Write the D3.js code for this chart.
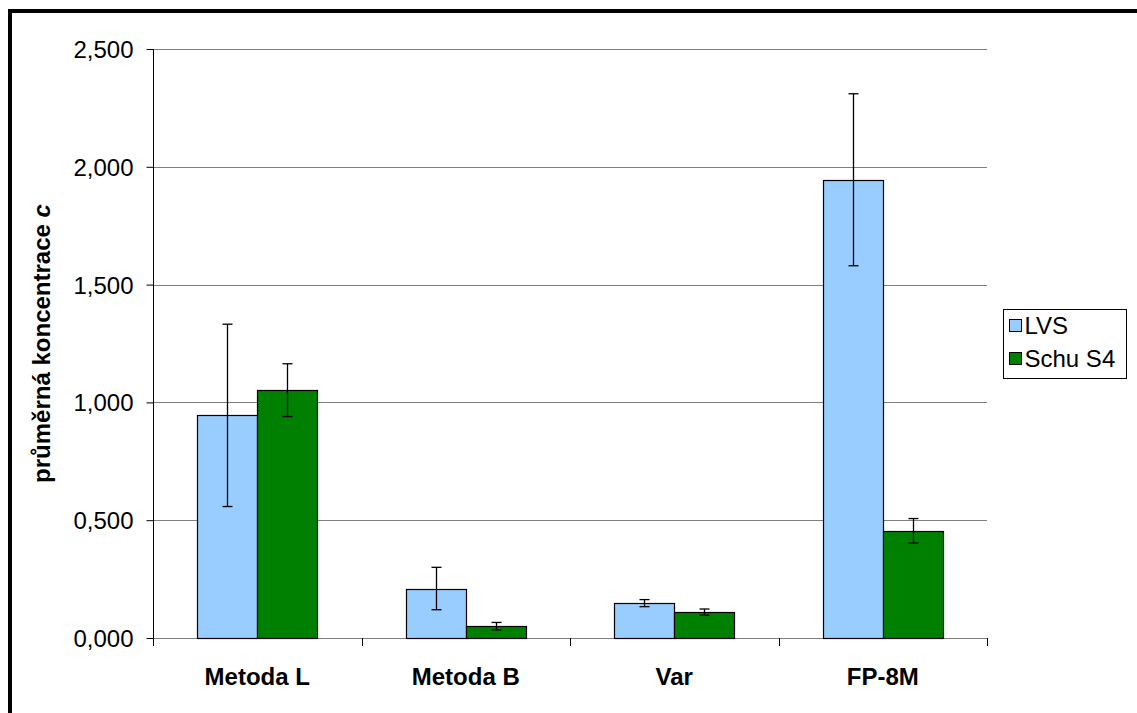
<!DOCTYPE html>
<html>
<head>
<meta charset="utf-8">
<script src="https://cdn.jsdelivr.net/npm/d3@7"></script>
<style>
  body { margin: 0; background: #fff; }
  svg text { font-family: Arial, "Liberation Sans", sans-serif; }
</style>
</head>
<body>
<svg id="chart" width="1137" height="713"></svg>
<script>
// data
const categories = ["Metoda L", "Metoda B", "Var", "FP-8M"];
const seriesNames = ["LVS", "Schu S4"];
const seriesColors = ["#99ccff", "#008000"];
const lvsValues = [0.945, 0.210, 0.148, 1.945];
const lvsErrors = [0.387, 0.090, 0.015, 0.365];
const schuValues = [1.052, 0.050, 0.110, 0.455];
const schuErrors = [0.112, 0.016, 0.013, 0.052];
const yTicks = [0, 0.5, 1, 1.5, 2, 2.5];

const svg = d3.select("#chart");

// outer frame (runs off right/bottom edge)
svg.append("rect")
    .attr("x", 10).attr("y", 11)
    .attr("width", 1300).attr("height", 900)
    .attr("fill", "none")
    .attr("stroke", "black")
    .attr("stroke-width", 4);

const plot = {left: 153, top: 49, right: 987, bottom: 638};

const x = d3.scaleBand()
    .domain(categories)
    .range([plot.left, plot.right]);

const y = d3.scaleLinear().domain([0, 2.5]).range([plot.bottom, plot.top]);

// gridlines
svg.append("g")
  .selectAll("line")
  .data(yTicks.filter(d => d > 0))
  .join("line")
    .attr("x1", plot.left).attr("x2", plot.right)
    .attr("y1", d => Math.round(y(d)) + 0.5).attr("y2", d => Math.round(y(d)) + 0.5)
    .attr("stroke", "#808080")
    .attr("stroke-width", 1);

// y axis
const yAxis = svg.append("g")
    .attr("transform", `translate(${plot.left + 0.5},0)`)
    .call(d3.axisLeft(y).tickValues(yTicks).tickSize(7).tickPadding(13)
      .tickFormat(d => d3.format(".3f")(d).replace(".", ",")));
yAxis.select(".domain").attr("stroke", "#000").attr("d", `M0,${plot.top}V${plot.bottom}`);
yAxis.selectAll(".tick line").attr("stroke", "#000");
yAxis.selectAll(".tick text")
    .attr("font-size", 24)
    .attr("fill", "#000")
    .attr("font-family", "Arial, 'Liberation Sans', sans-serif")
    .attr("dy", "0.35em");

// x axis line and ticks
const bandEdges = d3.range(categories.length + 1).map(i => plot.left + i * x.bandwidth());
svg.append("line")
    .attr("x1", plot.left).attr("x2", plot.right)
    .attr("y1", plot.bottom + 0.5).attr("y2", plot.bottom + 0.5)
    .attr("stroke", "#808080");
svg.append("g")
  .selectAll("line")
  .data(bandEdges)
  .join("line")
    .attr("x1", d => Math.round(d) + 0.5).attr("x2", d => Math.round(d) + 0.5)
    .attr("y1", plot.bottom).attr("y2", plot.bottom + 8)
    .attr("stroke", "#000");

// x labels
svg.append("g")
  .selectAll("text")
  .data(categories)
  .join("text")
    .attr("x", d => x(d) + x.bandwidth() / 2)
    .attr("y", 685)
    .attr("text-anchor", "middle")
    .attr("font-size", 24)
    .attr("font-weight", "bold")
    .text(d => d);

// bars
const barW = 60;
const rows = categories.map((c, i) => [
  {cat: c, s: 0, v: lvsValues[i], e: lvsErrors[i]},
  {cat: c, s: 1, v: schuValues[i], e: schuErrors[i]}
]).flat();

const barX = d => x(d.cat) + x.bandwidth() / 2 - barW + d.s * barW;

svg.append("g")
  .selectAll("rect")
  .data(rows)
  .join("rect")
    .attr("x", d => Math.round(barX(d)) + 0.5)
    .attr("y", d => Math.round(y(d.v)) + 0.5)
    .attr("width", barW)
    .attr("height", d => Math.round(y(0)) - Math.round(y(d.v)))
    .attr("fill", d => seriesColors[d.s])
    .attr("stroke", "#000")
    .attr("stroke-width", 1.2);

// error bars
const err = svg.append("g").attr("stroke", "#000").attr("stroke-width", 1.3);
rows.forEach(d => {
  const cx = Math.round(barX(d) + barW / 2) + 0.5;
  err.append("line").attr("x1", cx).attr("x2", cx).attr("y1", y(d.v + d.e)).attr("y2", y(d.v - d.e));
  err.append("line").attr("x1", cx - 5).attr("x2", cx + 5).attr("y1", y(d.v + d.e)).attr("y2", y(d.v + d.e));
  err.append("line").attr("x1", cx - 5).attr("x2", cx + 5).attr("y1", y(d.v - d.e)).attr("y2", y(d.v - d.e));
});

// y title
const title = svg.append("text")
    .attr("transform", `translate(50,${(plot.top + plot.bottom) / 2}) rotate(-90)`)
    .attr("text-anchor", "middle")
    .attr("font-size", 24)
    .attr("font-weight", "bold");
title.append("tspan").text("průměrná koncentrace ");
title.append("tspan").attr("font-style", "italic").text("c");

// legend
const legend = svg.append("g").attr("transform", "translate(1003.5,309.5)");
legend.append("rect")
    .attr("width", 123).attr("height", 69)
    .attr("fill", "#fff").attr("stroke", "#000");
const li = legend.selectAll("g.item")
  .data(seriesNames)
  .join("g")
    .attr("class", "item")
    .attr("transform", (d, i) => `translate(6,${16 + i * 33})`);
li.append("rect")
    .attr("y", -6)
    .attr("width", 12).attr("height", 12)
    .attr("fill", (d, i) => seriesColors[i])
    .attr("stroke", "#000");
li.append("text")
    .attr("x", 15).attr("y", 0)
    .attr("dy", "0.35em")
    .attr("font-size", 24)
    .text(d => d);
</script>
</body>
</html>
